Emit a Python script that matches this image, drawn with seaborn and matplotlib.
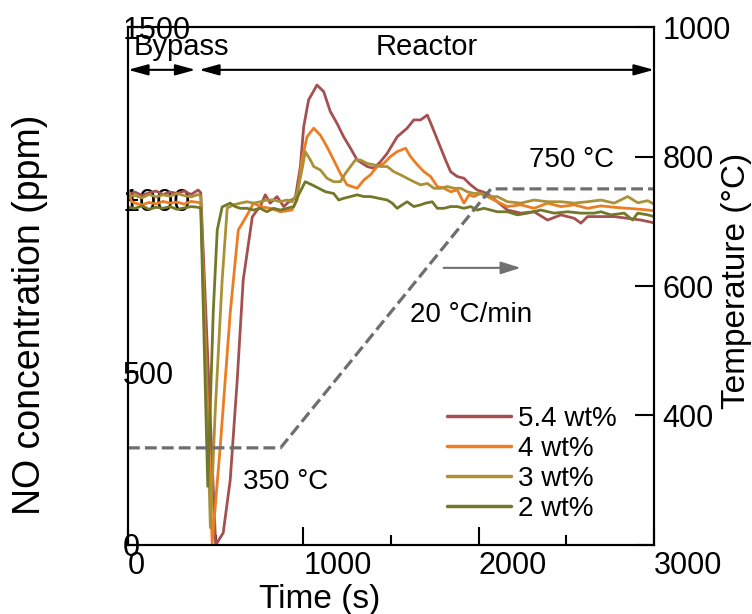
import numpy as np
import pandas as pd
import matplotlib
matplotlib.use('Agg')
import matplotlib.pyplot as plt
import seaborn as sns

sns.set_style('ticks')
plt.rcParams['font.family'] = ['Liberation Sans', 'DejaVu Sans']
plt.rcParams['axes.edgecolor'] = 'black'
plt.rcParams['axes.linewidth'] = 1.5
plt.rcParams['text.color'] = 'black'
plt.rcParams['axes.labelcolor'] = 'black'
plt.rcParams['xtick.color'] = 'black'
plt.rcParams['ytick.color'] = 'black'

# NO concentration (ppm) vs time (s)
t_54 = [0, 40, 80, 120, 160, 200, 240, 280, 320, 360, 400, 415,
        500, 543, 583, 623, 657, 709, 737,
        754, 783, 811, 850, 888, 926, 954,
        983, 1002, 1030, 1078, 1116, 1154, 1192, 1230, 1269, 1307,
        1364, 1402, 1440, 1478, 1535, 1592, 1630, 1669, 1707, 1735,
        1773, 1811, 1840, 1878, 1916, 1954, 1992, 2049, 2106,
        2164, 2240, 2316, 2393, 2469, 2545, 2583, 2621, 2697, 2773, 2850, 2926, 3000]
no_54 = [1015, 1022, 1012, 1020, 1025, 1015, 1022, 1018, 1025, 1015, 1028, 1020,
         0, 35, 188, 478, 767, 950, 970,
         980, 1014, 990, 1009, 980, 998, 1004,
         1096, 1211, 1289, 1332, 1313, 1255, 1221, 1182, 1149, 1115,
         1096, 1091, 1110, 1134, 1182, 1207, 1231, 1231, 1245, 1211,
         1163, 1115, 1081, 1067, 1062, 1043, 1028, 1018, 994,
         970, 961, 965, 941, 956, 946, 932, 951, 951, 951, 946, 941, 933]

t_4 = [0, 20, 40, 80, 120, 160, 200, 240, 280, 320, 360, 400, 415,
       480, 526, 583, 629, 680, 716,
       754, 811, 869, 935, 964, 992, 1021, 1059, 1097, 1135,
       1173, 1211, 1249, 1307, 1345, 1383, 1421, 1459, 1497, 1535,
       1583, 1611, 1650, 1688, 1726, 1764, 1802, 1840, 1878, 1916,
       1945, 1973, 2011, 2049, 2106,
       2164, 2240, 2316, 2393, 2469, 2545, 2621, 2697, 2773, 2850, 2926, 3000]
no_4 = [1030, 995, 990, 985, 992, 988, 995, 990, 993, 987, 995, 992, 990,
        5, 284, 672, 912, 956, 990,
        980, 975, 965, 970, 999, 1115, 1182, 1207, 1187, 1153,
        1115, 1076, 1043, 1033, 1057, 1072, 1096, 1105, 1125, 1139,
        1149, 1125, 1101, 1081, 1067, 1038, 1033, 1023, 1028, 990,
        1014, 1009, 1018, 1009, 994,
        980, 985, 975, 990, 980, 985, 975, 982, 978, 975, 972, 968]

t_3 = [0, 40, 80, 120, 160, 200, 240, 280, 320, 360, 400, 415,
       470, 497, 537, 566, 602, 640, 678, 716, 754, 792, 830, 869, 907, 935,
       964, 992, 1011, 1040, 1059, 1097, 1135, 1173, 1211, 1240,
       1269, 1297, 1326, 1364, 1402, 1440, 1478, 1516, 1554, 1592,
       1630, 1669, 1707, 1745, 1783, 1821, 1859, 1897, 1935, 1973,
       2011, 2049, 2106,
       2164, 2240, 2316, 2393, 2469, 2545, 2621, 2697, 2773, 2850, 2907, 2964, 3000]
no_3 = [1010, 1012, 1005, 1015, 1008, 1014, 1010, 1018, 1012, 1008, 1015, 1010,
        50, 382, 767, 976, 985, 990, 994, 990, 994, 999, 999, 994, 999, 994,
        1018, 1086, 1139, 1115, 1096, 1086, 1062, 1052, 1052, 1076,
        1096, 1115, 1115, 1105, 1101, 1096, 1096, 1081, 1072, 1062,
        1052, 1043, 1047, 1033, 1033, 1038, 1033, 1033, 1023, 1018,
        1018, 1009, 1009,
        994, 990, 999, 994, 994, 990, 994, 999, 990, 1009, 991, 997, 987]

t_2 = [0, 40, 80, 120, 160, 200, 240, 280, 320, 360, 400, 415,
       455, 486, 509, 537, 583, 611, 640, 678, 716, 754, 792, 830, 869, 907, 945,
       973, 1011, 1049, 1088, 1126, 1173, 1202, 1230, 1269, 1307,
       1345, 1383, 1430, 1478, 1507, 1535, 1564, 1592, 1630, 1669,
       1697, 1735, 1764, 1802, 1840, 1878, 1916, 1954, 1992, 2030,
       2069, 2106,
       2164, 2221, 2278, 2354, 2430, 2507, 2583, 2659, 2697, 2754, 2830, 2878, 2907, 2964, 3000]
no_2 = [978, 975, 982, 972, 978, 975, 980, 972, 976, 980, 978, 975,
        170, 672, 912, 979, 990, 980, 975, 975, 970, 975, 965, 975, 970, 975, 980,
        1014, 1052, 1043, 1033, 1023, 1018, 999, 1004, 1009, 1014,
        1009, 1009, 1004, 999, 990, 975, 985, 994, 980, 985,
        990, 994, 975, 975, 980, 980, 975, 980, 970, 975,
        970, 965,
        965, 956, 961, 970, 961, 965, 961, 961, 965, 956, 961, 941, 961, 956, 951]

labels = ['5.4 wt%', '4 wt%', '3 wt%', '2 wt%']
colors = ['#a55050', '#eb7d23', '#aa9137', '#737828']

# temperature programme
temp_t = [0, 870, 2070, 3000]
temp_c = [350, 350, 750, 750]

bypass_end = 385
reactor_start = 405

frames = []
for lab, t, no in zip(labels, [t_54, t_4, t_3, t_2], [no_54, no_4, no_3, no_2]):
    frames.append(pd.DataFrame({'time': t, 'no': no, 'loading': lab}))
df = pd.concat(frames, ignore_index=True)

fig = plt.figure(figsize=(7.52, 6.14), dpi=100)
ax = fig.add_axes([0.1702, 0.1124, 0.6995, 0.8436])

sns.lineplot(data=df, x='time', y='no', hue='loading', hue_order=labels,
             palette=colors, estimator=None, sort=False, lw=2.0, ax=ax)

ax.set_xlim(0, 3000)
ax.set_ylim(0, 1500)
ax.set_xticks([0, 1000, 2000, 3000])
ax.set_xticks([500, 1500, 2500], minor=True)
ax.set_yticks([0, 500, 1000, 1500])
ax.tick_params(axis='x', which='major', direction='in', length=13, width=1.5, labelsize=22, pad=4)
ax.tick_params(axis='x', which='minor', direction='in', length=7, width=1.5)
ax.tick_params(axis='y', direction='in', length=7, width=1.5, labelsize=22, pad=3.6)
for lbl in ax.get_xticklabels():
    lbl.set_ha('left')
for lbl in ax.get_yticklabels():
    lbl.set_ha('left')

ax.set_xlabel('Time (s)', fontsize=24)
ax.set_ylabel('NO concentration (ppm)', fontsize=27)
ax.xaxis.set_label_coords(0.365, -0.075)
ax.yaxis.set_label_coords(-0.152, 0.444)

sns.move_legend(ax, 'lower left', bbox_to_anchor=(0.606, 0.045), frameon=False,
                title=None, fontsize=20, handlelength=2.3, handletextpad=0.25,
                labelspacing=0.14, borderpad=0, borderaxespad=0)
for h in ax.get_legend().get_lines():
    h.set_linewidth(2.5)

# bypass / reactor arrows
arrow_y = 1376
head = '<|-|>,head_length=0.8,head_width=0.22'
ax.annotate('', xy=(0, arrow_y), xytext=(bypass_end, arrow_y),
            arrowprops=dict(arrowstyle=head, color='black', lw=1.5,
                            mutation_scale=15, shrinkA=0, shrinkB=0))
ax.annotate('', xy=(reactor_start, arrow_y), xytext=(3000, arrow_y),
            arrowprops=dict(arrowstyle=head, color='black', lw=1.5,
                            mutation_scale=15, shrinkA=0, shrinkB=0))
ax.text(30, 1442, 'Bypass', fontsize=21, va='center', ha='left')
ax.text(1703, 1442, 'Reactor', fontsize=21, va='center', ha='center')

# temperature axis
ax2 = ax.twinx()
sns.lineplot(x=temp_t, y=temp_c, ax=ax2, color='#6e6e6e', lw=2.3, ls='--')
ax2.set_ylim(200, 1000)
ax2.set_yticks([200, 400, 600, 800, 1000])
ax2.set_yticklabels(['', '400', '600', '800', '1000'])
ax2.tick_params(axis='y', direction='in', length=14, width=1.5, labelsize=22, pad=6)
ax2.set_ylabel('Temperature (°C)', fontsize=24)
ax2.yaxis.set_label_coords(1.127, 0.51)

ax2.annotate('', xy=(2240, 628), xytext=(1800, 628),
             arrowprops=dict(arrowstyle='-|>,head_length=0.8,head_width=0.25',
                             color='#707070', lw=1.5, mutation_scale=15,
                             shrinkA=0, shrinkB=0))
ax2.text(2286, 795, '750 °C', fontsize=20, va='center')
ax2.text(1611, 555, '20 °C/min', fontsize=20, va='center')
ax2.text(657, 297, '350 °C', fontsize=20, va='center')

fig.savefig('out.png', dpi=100, facecolor='white')
